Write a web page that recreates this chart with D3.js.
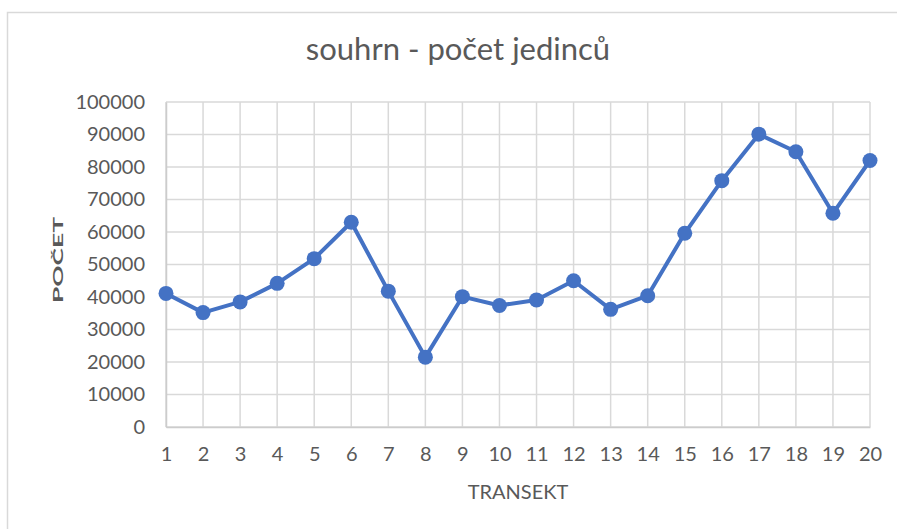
<!DOCTYPE html>
<html>
<head>
<meta charset="utf-8">
<script src="https://cdn.jsdelivr.net/npm/d3@7"></script>
<style>
	body { margin: 0; background: #fff; }
	text { font-family: Lato, "Open Sans", sans-serif; fill: #595959; }
</style>
</head>
<body>
<svg id="svg"></svg>
<script>
var width = 897, height = 529;

// data
var transects = ["1", "2", "3", "4", "5", "6", "7", "8", "9", "10",
	"11", "12", "13", "14", "15", "16", "17", "18", "19", "20"];
var counts = [41100, 35200, 38500, 44200, 51800, 63000, 41800, 21500, 40100, 37400,
	39100, 45000, 36200, 40400, 59600, 75800, 90100, 84700, 65750, 82000];
var yTicks = [0, 10000, 20000, 30000, 40000, 50000, 60000, 70000, 80000, 90000, 100000];

var svg = d3.select("#svg")
	.attr("width", width)
	.attr("height", height);

// chart border (cut off at right and bottom)
svg.append("path")
	.attr("d", "M7.5," + height + "V12.5H" + width)
	.attr("fill", "none")
	.attr("stroke", "#d9d9d9")
	.attr("stroke-width", 1.5);

var plotLeft = 166, plotRight = 870, plotTop = 102, plotBottom = 427;

var x = d3.scalePoint()
	.domain(transects)
	.range([plotLeft, plotRight]);
var y = d3.scaleLinear()
	.domain([0, 100000])
	.range([plotBottom, plotTop]);

// gridlines
svg.append("g")
	.selectAll("line")
	.data(yTicks)
	.enter()
	.append("line")
	.attr("x1", plotLeft).attr("x2", plotRight)
	.attr("y1", function(d) { return y(d); })
	.attr("y2", function(d) { return y(d); })
	.attr("stroke", "#d9d9d9")
	.attr("stroke-width", 1.5);
svg.append("g")
	.selectAll("line")
	.data(transects)
	.enter()
	.append("line")
	.attr("x1", function(d) { return x(d); })
	.attr("x2", function(d) { return x(d); })
	.attr("y1", plotTop).attr("y2", plotBottom)
	.attr("stroke", "#d9d9d9")
	.attr("stroke-width", 1.5);

// axes
var xAxis = d3.axisBottom(x).tickSize(0).tickPadding(20);
var yAxis = d3.axisLeft(y).tickValues(yTicks).tickSize(0).tickPadding(21)
	.tickFormat(d3.format("d"));
var gx = svg.append("g")
	.attr("transform", "translate(0," + plotBottom + ")")
	.call(xAxis);
var gy = svg.append("g")
	.attr("transform", "translate(" + plotLeft + ",0)")
	.call(yAxis);
gx.select(".domain").attr("stroke", "#cccccc").attr("stroke-width", 1.5);
gy.select(".domain").attr("stroke", "#cccccc").attr("stroke-width", 1.5);
gx.selectAll("text").style("font-size", "20px").attr("fill", "#595959");
gy.selectAll("text").style("font-size", "20px").attr("fill", "#595959");

// line + markers
var line = d3.line()
	.x(function(d, i) { return x(transects[i]); })
	.y(function(d) { return y(d); });
svg.append("path")
	.datum(counts)
	.attr("d", line)
	.attr("fill", "none")
	.attr("stroke", "#4472c4")
	.attr("stroke-width", 4)
	.attr("stroke-linejoin", "round");
svg.append("g")
	.selectAll("circle")
	.data(counts)
	.enter()
	.append("circle")
	.attr("cx", function(d, i) { return x(transects[i]); })
	.attr("cy", function(d) { return y(d); })
	.attr("r", 7.5)
	.attr("fill", "#4472c4");

// titles
svg.append("text")
	.attr("x", 458)
	.attr("y", 60)
	.style("text-anchor", "middle")
	.style("font-size", "31px")
	.text("souhrn - počet jedinců");
svg.append("text")
	.attr("x", 518)
	.attr("y", 499)
	.style("text-anchor", "middle")
	.style("font-size", "20px")
	.text("TRANSEKT");
svg.append("text")
	.attr("transform", "translate(63,260) rotate(-90)")
	.style("text-anchor", "middle")
	.style("font-size", "14px")
	.style("font-weight", "bold")
	.attr("textLength", 86)
	.attr("lengthAdjust", "spacingAndGlyphs")
	.text("POČET");
</script>
</body>
</html>
